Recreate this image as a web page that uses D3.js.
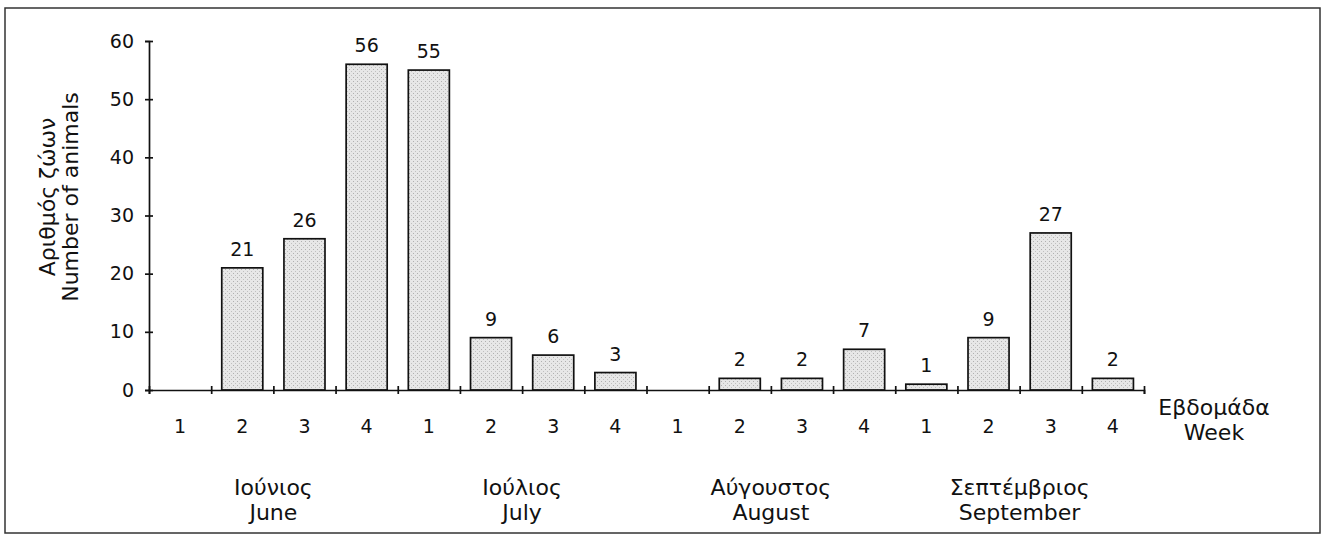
<!DOCTYPE html>
<html>
<head>
<meta charset="utf-8">
<script src="https://cdn.jsdelivr.net/npm/d3@7"></script>
<style>
  body { margin: 0; background: #fff; }
  text { font-family: "DejaVu Sans", sans-serif; fill: #111; }
</style>
</head>
<body>
<div class="graph"></div>
<script>
// data
let monthsGr = ["Ιούνιος", "Ιούλιος", "Αύγουστος", "Σεπτέμβριος"]
let monthsEn = ["June", "July", "August", "September"]
let weekLabels = ["1", "2", "3", "4"]
// animals per week, June wk1 .. September wk4 (null = no bar)
let counts = [null, 21, 26, 56, 55, 9, 6, 3, null, 2, 2, 7, 1, 9, 27, 2]
let yTicks = [0, 10, 20, 30, 40, 50, 60]

let svgWidth = 1328
let svgHeight = 536

let margin = { left: 149, right: 184, top: 41, bottom: 146 }
let width = svgWidth - margin.left - margin.right
let height = svgHeight - margin.top - margin.bottom

let svg0 = d3.select('.graph')
    .append('svg')
    .attr('width', svgWidth)
    .attr('height', svgHeight)

// outer frame
svg0.append('rect')
    .attr('x', 5).attr('y', 8)
    .attr('width', 1315).attr('height', 525)
    .attr('fill', 'none')
    .attr('stroke', '#333')
    .attr('stroke-width', 1.5)

// stipple pattern for bars
let defs = svg0.append('defs')
let pat = defs.append('pattern')
    .attr('id', 'stip')
    .attr('width', 4).attr('height', 4)
    .attr('patternUnits', 'userSpaceOnUse')
pat.append('rect').attr('width', 4).attr('height', 4).attr('fill', '#e7e7e7')
pat.append('rect').attr('x', 0).attr('y', 0).attr('width', 1).attr('height', 1).attr('fill', '#b0b0b0')
pat.append('rect').attr('x', 2).attr('y', 2).attr('width', 1).attr('height', 1).attr('fill', '#c0c0c0')

let svg = svg0.append('g')
    .attr('transform', `translate(${margin.left},${margin.top})`)

let data = []
monthsGr.forEach((m, mi) => {
    weekLabels.forEach((w, wi) => {
        data.push({ key: mi + '-' + wi, month: mi, week: w, value: counts[mi * 4 + wi] })
    })
})

let xScale = d3.scaleBand()
    .domain(data.map(d => d.key))
    .range([0, width])
    .paddingInner(0.34)
    .paddingOuter(0.17)

// boundaries between weeks
let xLin = d3.scaleLinear()
    .domain([0, data.length])
    .range([0, width])

let yScale = d3.scaleLinear()
    .domain([0, 60])
    .range([height, 0])

// bars
let bars = data.filter(d => d.value != null)
svg.selectAll('.bar')
    .data(bars)
    .enter()
    .append('rect')
    .attr('class', 'bar')
    .attr('x', d => xScale(d.key))
    .attr('width', xScale.bandwidth())
    .attr('y', d => yScale(d.value))
    .attr('height', d => yScale(0) - yScale(d.value))
    .attr('fill', 'url(#stip)')
    .attr('stroke', '#111')
    .attr('stroke-width', 1.7)

// value labels
svg.selectAll('.val')
    .data(bars)
    .enter()
    .append('text')
    .attr('class', 'val')
    .attr('x', d => xScale(d.key) + xScale.bandwidth() / 2)
    .attr('y', d => yScale(d.value) - 12)
    .attr('text-anchor', 'middle')
    .style('font-size', '19px')
    .text(d => d.value)

// y axis
let yAxis = d3.axisLeft(yScale)
    .tickValues(yTicks)
    .tickSize(4)
    .tickPadding(11)
let gy = svg.append('g').attr('id', 'y-axis').call(yAxis)
gy.select('.domain').attr('stroke', '#111').attr('stroke-width', 1.7)
gy.selectAll('.tick line').attr('x1', 4).attr('stroke', '#111').attr('stroke-width', 1.7)
gy.selectAll('.tick text').style('font-size', '19px').attr('fill', '#111')

// x axis: ticks at week boundaries
let xAxis = d3.axisBottom(xLin)
    .tickValues(d3.range(data.length + 1))
    .tickSize(4)
    .tickFormat('')
let gx = svg.append('g')
    .attr('id', 'x-axis')
    .attr('transform', `translate(0,${height})`)
    .call(xAxis)
gx.select('.domain').attr('stroke', '#111').attr('stroke-width', 1.7)
gx.selectAll('.tick line').attr('y1', -4).attr('stroke', '#111').attr('stroke-width', 1.7)

// week numbers
svg.selectAll('.wk')
    .data(data)
    .enter()
    .append('text')
    .attr('class', 'wk')
    .attr('x', d => xScale(d.key) + xScale.bandwidth() / 2)
    .attr('y', height + 43)
    .attr('text-anchor', 'middle')
    .style('font-size', '19px')
    .text(d => d.week)

// month labels
monthsGr.forEach((m, i) => {
    let cx = (xLin(i * 4) + xLin(i * 4 + 4)) / 2
    svg.append('text')
        .attr('x', cx)
        .attr('y', height + 105)
        .attr('text-anchor', 'middle')
        .style('font-size', '22px')
        .text(m)
    svg.append('text')
        .attr('x', cx)
        .attr('y', height + 130)
        .attr('text-anchor', 'middle')
        .style('font-size', '22px')
        .text(monthsEn[i])
})

// x axis title
svg.append('text')
    .attr('x', width + 70)
    .attr('y', height + 25)
    .attr('text-anchor', 'middle')
    .style('font-size', '22px')
    .text('Εβδομάδα')
svg.append('text')
    .attr('x', width + 70)
    .attr('y', height + 50)
    .attr('text-anchor', 'middle')
    .style('font-size', '22px')
    .text('Week')

// y axis title
svg0.append('text')
    .attr('transform', 'translate(55,197) rotate(-90)')
    .attr('text-anchor', 'middle')
    .style('font-size', '22px')
    .text('Αριθμός ζώων')
svg0.append('text')
    .attr('transform', 'translate(78,197) rotate(-90)')
    .attr('text-anchor', 'middle')
    .style('font-size', '22px')
    .text('Number of animals')
</script>
</body>
</html>
